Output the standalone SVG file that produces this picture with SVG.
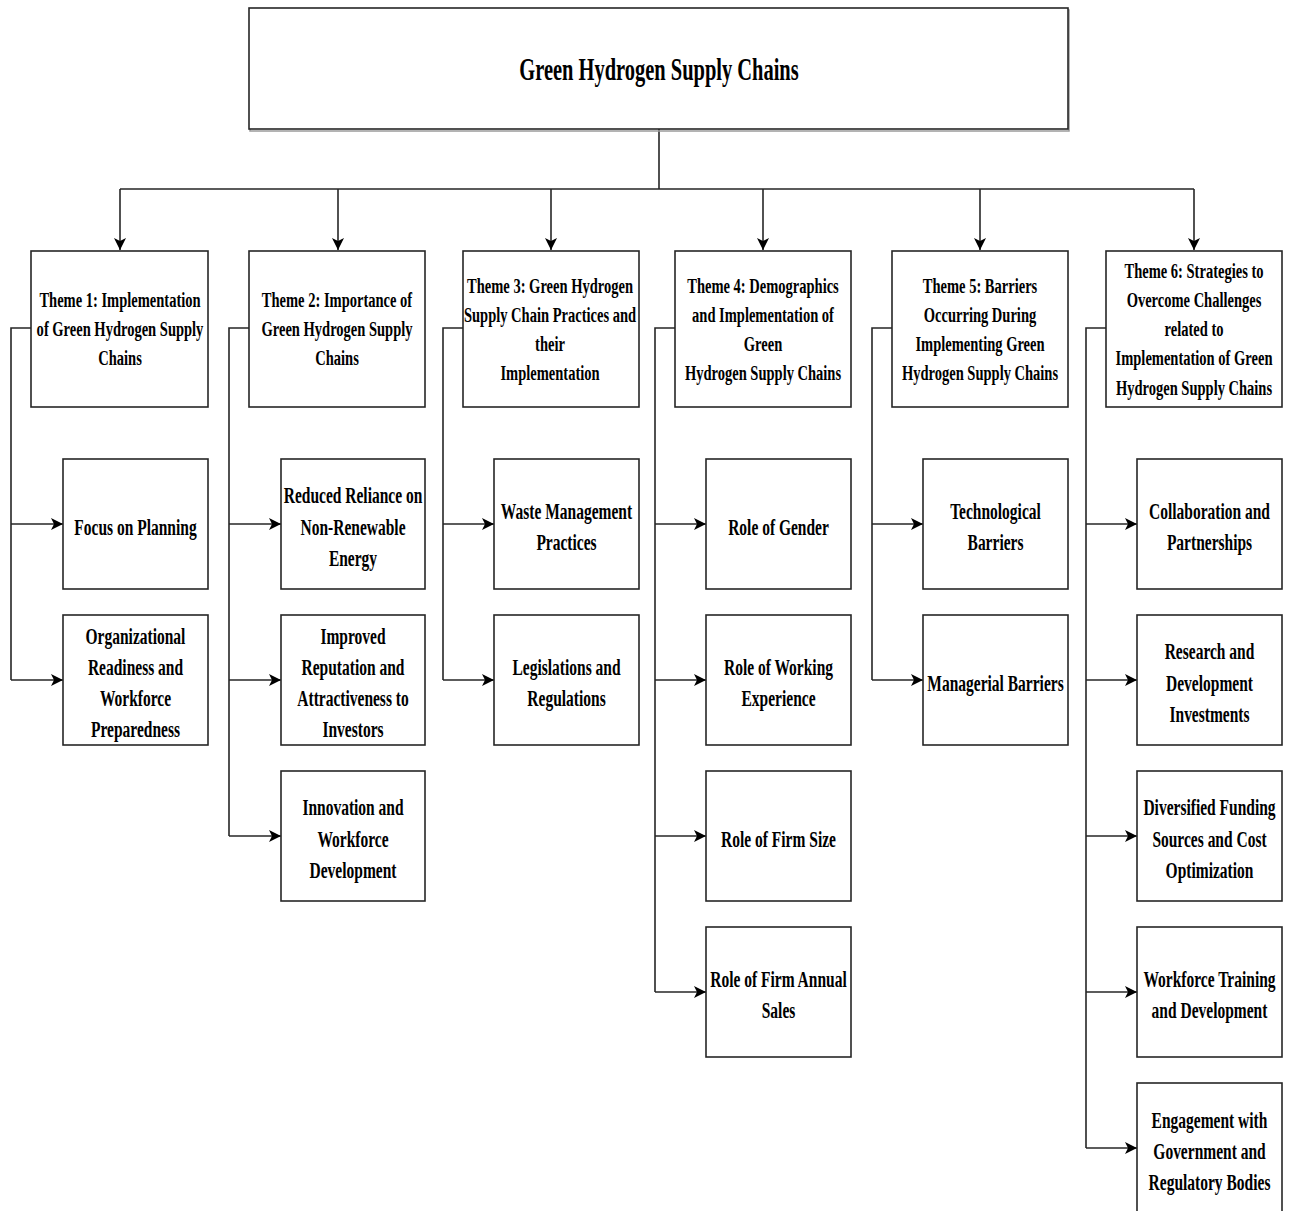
<svg xmlns="http://www.w3.org/2000/svg" width="1292" height="1211" viewBox="0 0 1292 1211">
<style>
.box{fill:#fff;stroke:#262626;stroke-width:1.6}
.sh{fill:none;stroke:#9a9a9a;stroke-width:1.5}
.ln{fill:none;stroke:#262626;stroke-width:1.6}
text{font-family:"Liberation Serif","Times New Roman",serif;font-weight:bold;fill:#000;text-anchor:middle}
.ti{font-size:31px}
.th{font-size:22px}
.ch{font-size:23.5px}
</style>
<defs>
<marker id="ah" viewBox="0 0 10 10" refX="10" refY="5" markerWidth="12" markerHeight="12" markerUnits="userSpaceOnUse" orient="auto">
<path d="M0,0 L10,5 L0,10 L2.5,5 z" fill="#000"/>
</marker>
</defs>
<rect width="1292" height="1211" fill="#fff"/>

<g id="connectors">
<path class="ln" d="M659,129 V189 M120,189 H1194"/>
<path class="ln" marker-end="url(#ah)" d="M120,189 V250"/>
<path class="ln" marker-end="url(#ah)" d="M338,189 V250"/>
<path class="ln" marker-end="url(#ah)" d="M551,189 V250"/>
<path class="ln" marker-end="url(#ah)" d="M763,189 V250"/>
<path class="ln" marker-end="url(#ah)" d="M980,189 V250"/>
<path class="ln" marker-end="url(#ah)" d="M1194,189 V250"/>
<path class="ln" d="M31,328 H11 V680"/>
<path class="ln" marker-end="url(#ah)" d="M11,524 H63"/>
<path class="ln" marker-end="url(#ah)" d="M11,680 H63"/>
<path class="ln" d="M249,328 H229 V836"/>
<path class="ln" marker-end="url(#ah)" d="M229,524 H281"/>
<path class="ln" marker-end="url(#ah)" d="M229,680 H281"/>
<path class="ln" marker-end="url(#ah)" d="M229,836 H281"/>
<path class="ln" d="M463,328 H443 V680"/>
<path class="ln" marker-end="url(#ah)" d="M443,524 H494"/>
<path class="ln" marker-end="url(#ah)" d="M443,680 H494"/>
<path class="ln" d="M675,328 H655 V992"/>
<path class="ln" marker-end="url(#ah)" d="M655,524 H706"/>
<path class="ln" marker-end="url(#ah)" d="M655,680 H706"/>
<path class="ln" marker-end="url(#ah)" d="M655,836 H706"/>
<path class="ln" marker-end="url(#ah)" d="M655,992 H706"/>
<path class="ln" d="M892,328 H872 V680"/>
<path class="ln" marker-end="url(#ah)" d="M872,524 H923"/>
<path class="ln" marker-end="url(#ah)" d="M872,680 H923"/>
<path class="ln" d="M1106,328 H1086 V1148"/>
<path class="ln" marker-end="url(#ah)" d="M1086,524 H1137"/>
<path class="ln" marker-end="url(#ah)" d="M1086,680 H1137"/>
<path class="ln" marker-end="url(#ah)" d="M1086,836 H1137"/>
<path class="ln" marker-end="url(#ah)" d="M1086,992 H1137"/>
<path class="ln" marker-end="url(#ah)" d="M1086,1148 H1137"/>
</g>

<g id="root">
<rect class="sh" x="250" y="10" width="819" height="121"/>
<rect class="box" x="249" y="8" width="819" height="121"/>
<text class="ti" transform="translate(659,0) scale(0.66,1)"><tspan x="0" y="80">Green Hydrogen Supply Chains</tspan></text>
</g>

<g id="theme1">
<rect class="box" x="31" y="251" width="177" height="156"/>
<text class="th" transform="translate(120,0) scale(0.66,1)"><tspan x="0" y="307">Theme 1: Implementation</tspan><tspan x="0" y="336">of Green Hydrogen Supply</tspan><tspan x="0" y="365">Chains</tspan></text>
</g>
<g id="theme2">
<rect class="box" x="249" y="251" width="176" height="156"/>
<text class="th" transform="translate(337,0) scale(0.66,1)"><tspan x="0" y="307">Theme 2: Importance of</tspan><tspan x="0" y="336">Green Hydrogen Supply</tspan><tspan x="0" y="365">Chains</tspan></text>
</g>
<g id="theme3">
<rect class="box" x="463" y="251" width="176" height="156"/>
<text class="th" transform="translate(550,0) scale(0.66,1)"><tspan x="0" y="293">Theme 3: Green Hydrogen</tspan><tspan x="0" y="322">Supply Chain Practices and</tspan><tspan x="0" y="351">their</tspan><tspan x="0" y="380">Implementation</tspan></text>
</g>
<g id="theme4">
<rect class="box" x="675" y="251" width="176" height="156"/>
<text class="th" transform="translate(763,0) scale(0.66,1)"><tspan x="0" y="293">Theme 4: Demographics</tspan><tspan x="0" y="322">and Implementation of</tspan><tspan x="0" y="351">Green</tspan><tspan x="0" y="380">Hydrogen Supply Chains</tspan></text>
</g>
<g id="theme5">
<rect class="box" x="892" y="251" width="176" height="156"/>
<text class="th" transform="translate(980,0) scale(0.66,1)"><tspan x="0" y="293">Theme 5: Barriers</tspan><tspan x="0" y="322">Occurring During</tspan><tspan x="0" y="351">Implementing Green</tspan><tspan x="0" y="380">Hydrogen Supply Chains</tspan></text>
</g>
<g id="theme6">
<rect class="box" x="1106" y="251" width="176" height="156"/>
<text class="th" transform="translate(1194,0) scale(0.66,1)"><tspan x="0" y="278">Theme 6: Strategies to</tspan><tspan x="0" y="307">Overcome Challenges</tspan><tspan x="0" y="336">related to</tspan><tspan x="0" y="365">Implementation of Green</tspan><tspan x="0" y="395">Hydrogen Supply Chains</tspan></text>
</g>

<g id="t1c1">
<rect class="box" x="63" y="459" width="145" height="130"/>
<text class="ch" transform="translate(135.5,0) scale(0.66,1)"><tspan x="0" y="535">Focus on Planning</tspan></text>
</g>
<g id="t1c2">
<rect class="box" x="63" y="615" width="145" height="130"/>
<text class="ch" transform="translate(135.5,0) scale(0.66,1)"><tspan x="0" y="644">Organizational</tspan><tspan x="0" y="675">Readiness and</tspan><tspan x="0" y="706">Workforce</tspan><tspan x="0" y="737">Preparedness</tspan></text>
</g>

<g id="t2c1">
<rect class="box" x="281" y="459" width="144" height="130"/>
<text class="ch" transform="translate(353,0) scale(0.66,1)"><tspan x="0" y="503">Reduced Reliance on</tspan><tspan x="0" y="535">Non-Renewable</tspan><tspan x="0" y="566">Energy</tspan></text>
</g>
<g id="t2c2">
<rect class="box" x="281" y="615" width="144" height="130"/>
<text class="ch" transform="translate(353,0) scale(0.66,1)"><tspan x="0" y="644">Improved</tspan><tspan x="0" y="675">Reputation and</tspan><tspan x="0" y="706">Attractiveness to</tspan><tspan x="0" y="737">Investors</tspan></text>
</g>
<g id="t2c3">
<rect class="box" x="281" y="771" width="144" height="130"/>
<text class="ch" transform="translate(353,0) scale(0.66,1)"><tspan x="0" y="815">Innovation and</tspan><tspan x="0" y="847">Workforce</tspan><tspan x="0" y="878">Development</tspan></text>
</g>

<g id="t3c1">
<rect class="box" x="494" y="459" width="145" height="130"/>
<text class="ch" transform="translate(566.5,0) scale(0.66,1)"><tspan x="0" y="519">Waste Management</tspan><tspan x="0" y="550">Practices</tspan></text>
</g>
<g id="t3c2">
<rect class="box" x="494" y="615" width="145" height="130"/>
<text class="ch" transform="translate(566.5,0) scale(0.66,1)"><tspan x="0" y="675">Legislations and</tspan><tspan x="0" y="706">Regulations</tspan></text>
</g>

<g id="t4c1">
<rect class="box" x="706" y="459" width="145" height="130"/>
<text class="ch" transform="translate(778.5,0) scale(0.66,1)"><tspan x="0" y="535">Role of Gender</tspan></text>
</g>
<g id="t4c2">
<rect class="box" x="706" y="615" width="145" height="130"/>
<text class="ch" transform="translate(778.5,0) scale(0.66,1)"><tspan x="0" y="675">Role of Working</tspan><tspan x="0" y="706">Experience</tspan></text>
</g>
<g id="t4c3">
<rect class="box" x="706" y="771" width="145" height="130"/>
<text class="ch" transform="translate(778.5,0) scale(0.66,1)"><tspan x="0" y="847">Role of Firm Size</tspan></text>
</g>
<g id="t4c4">
<rect class="box" x="706" y="927" width="145" height="130"/>
<text class="ch" transform="translate(778.5,0) scale(0.66,1)"><tspan x="0" y="987">Role of Firm Annual</tspan><tspan x="0" y="1018">Sales</tspan></text>
</g>

<g id="t5c1">
<rect class="box" x="923" y="459" width="145" height="130"/>
<text class="ch" transform="translate(995.5,0) scale(0.66,1)"><tspan x="0" y="519">Technological</tspan><tspan x="0" y="550">Barriers</tspan></text>
</g>
<g id="t5c2">
<rect class="box" x="923" y="615" width="145" height="130"/>
<text class="ch" transform="translate(995.5,0) scale(0.66,1)"><tspan x="0" y="691">Managerial Barriers</tspan></text>
</g>

<g id="t6c1">
<rect class="box" x="1137" y="459" width="145" height="130"/>
<text class="ch" transform="translate(1209.5,0) scale(0.66,1)"><tspan x="0" y="519">Collaboration and</tspan><tspan x="0" y="550">Partnerships</tspan></text>
</g>
<g id="t6c2">
<rect class="box" x="1137" y="615" width="145" height="130"/>
<text class="ch" transform="translate(1209.5,0) scale(0.66,1)"><tspan x="0" y="659">Research and</tspan><tspan x="0" y="691">Development</tspan><tspan x="0" y="722">Investments</tspan></text>
</g>
<g id="t6c3">
<rect class="box" x="1137" y="771" width="145" height="130"/>
<text class="ch" transform="translate(1209.5,0) scale(0.66,1)"><tspan x="0" y="815">Diversified Funding</tspan><tspan x="0" y="847">Sources and Cost</tspan><tspan x="0" y="878">Optimization</tspan></text>
</g>
<g id="t6c4">
<rect class="box" x="1137" y="927" width="145" height="130"/>
<text class="ch" transform="translate(1209.5,0) scale(0.66,1)"><tspan x="0" y="987">Workforce Training</tspan><tspan x="0" y="1018">and Development</tspan></text>
</g>
<g id="t6c5">
<rect class="box" x="1137" y="1083" width="145" height="132"/>
<text class="ch" transform="translate(1209.5,0) scale(0.66,1)"><tspan x="0" y="1128">Engagement with</tspan><tspan x="0" y="1159">Government and</tspan><tspan x="0" y="1190">Regulatory Bodies</tspan></text>
</g>
</svg>
